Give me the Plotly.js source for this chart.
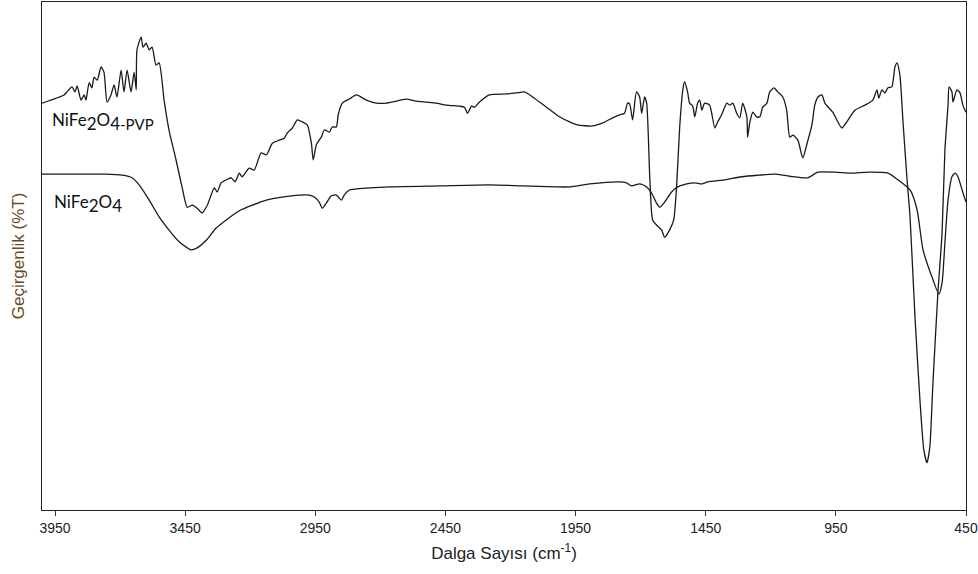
<!DOCTYPE html>
<html>
<head>
<meta charset="utf-8">
<script src="https://cdn.plot.ly/plotly-3.0.1.min.js"></script>
<style>html,body{margin:0;padding:0;background:#fff;}#chart{width:978px;height:574px;}</style>
</head>
<body>
<div id="chart"></div>
<script>
// NiFe2O4-PVP spectrum: wavenumber (cm-1) and transmittance (%T, relative)
const pvpWavenumber = [4000,3915,3904,3885,3873,3865,3850,3838,3831,3819,3808,3800,3788,3773,3762,3750,3735,3723,3712,3696,3685,3673,3658,3646,3638,3635,3619,3612,3600,3588,3577,3562,3550,3531,3512,3485,3462,3442,3423,3404,3385,3365,3338,3327,3312,3292,3273,3258,3242,3231,3204,3185,3158,3138,3115,3088,3069,3058,3038,3019,3000,2981,2965,2958,2946,2927,2915,2896,2885,2869,2862,2846,2819,2792,2754,2715,2677,2638,2600,2562,2523,2485,2446,2396,2377,2365,2350,2338,2319,2281,2215,2177,2146,2115,2062,2012,1973,1942,1885,1846,1808,1781,1762,1750,1742,1731,1716,1704,1696,1685,1677,1665,1654,1639,1619,1608,1589,1573,1562,1550,1538,1531,1519,1512,1500,1492,1481,1473,1465,1454,1435,1427,1415,1404,1389,1369,1358,1346,1331,1319,1308,1292,1289,1281,1269,1254,1242,1231,1215,1204,1188,1173,1154,1139,1127,1115,1096,1077,1062,1042,1031,1019,1004,992,962,927,908,877,838,808,792,785,773,762,750,735,723,715,704,692,677,665,646,627,612,600,589,577,558,542,531,519,515,504,500,485,473,462,450];
const pvpTransmittance = [80.1,81.7,82.3,83.3,82.3,83.5,80.7,81.7,80.7,84.1,83.1,85.2,84.6,87.2,86.2,80.3,81.7,83.7,81.3,86.6,82.3,86.6,82.3,86.2,82.7,90.6,93.1,91.1,91.9,90.6,91.1,87.6,88.0,80.7,74.8,68.9,63.6,59.6,60.0,59.4,58.5,60.0,63.4,62.6,64.4,65.0,65.4,64.6,66.3,65.6,67.3,66.9,70.3,69.9,72.2,72.8,73.2,74.2,75.2,76.8,76.4,75.8,72.2,68.9,71.9,73.4,74.8,74.4,75.4,75.4,77.8,80.1,80.9,81.7,80.7,80.1,80.1,80.5,80.9,80.5,80.3,80.1,79.7,79.5,79.3,78.1,79.5,79.3,80.3,81.7,81.9,82.1,82.3,81.3,79.3,77.4,76.4,75.8,75.6,76.2,77.2,77.8,78.1,80.1,79.9,76.8,82.3,81.3,78.1,81.3,80.1,65.6,57.1,56.1,55.1,53.7,55.1,57.1,63.6,75.4,82.7,84.3,82.1,80.1,79.5,77.4,80.1,80.7,78.7,80.1,79.7,78.1,75.2,76.4,77.8,80.1,79.7,80.1,78.1,77.2,80.1,77.4,73.4,76.2,78.3,77.4,77.4,79.3,80.1,82.3,83.1,82.3,81.3,78.7,73.4,73.8,72.8,69.3,71.9,75.8,79.7,81.3,81.7,80.1,78.3,75.2,76.4,78.7,79.7,80.7,82.7,81.1,82.7,82.1,83.1,83.3,87.2,88.0,85.6,76.4,65.4,57.7,38.0,21.7,11.8,9.3,12.4,25.0,42.7,54.5,70.9,79.7,83.3,82.3,80.3,82.7,82.1,79.7,78.3];

// NiFe2O4 spectrum
const niWavenumber = [4000,3885,3754,3692,3654,3627,3588,3550,3512,3473,3442,3427,3404,3369,3331,3292,3242,3192,3138,3077,3012,2973,2954,2935,2923,2908,2889,2869,2850,2839,2819,2792,2665,2473,2281,2154,2023,1973,1896,1781,1754,1735,1704,1677,1658,1639,1627,1608,1581,1558,1523,1492,1465,1442,1377,1312,1250,1185,1127,1058,1019,954,889,827,750,712,665,638,615,581,554,542,531,519,504,492,481,465,450];
const niTransmittance = [66.1,66.1,66.1,65.9,65.4,64.0,61.0,57.7,55.1,52.8,51.6,51.2,51.6,53.1,55.5,57.1,58.9,60.0,61.0,61.6,62.0,62.0,61.6,60.6,59.4,60.4,61.8,62.0,61.0,62.0,63.0,63.2,63.6,63.8,64.0,63.8,63.6,63.6,64.2,64.6,64.4,63.8,64.2,63.6,62.4,60.4,59.6,60.6,62.6,63.6,64.2,64.4,64.2,64.6,65.0,65.6,65.9,66.1,65.7,65.4,66.5,66.5,66.3,66.5,66.3,65.0,63.0,59.1,51.2,45.9,42.5,44.7,52.6,61.0,65.6,66.3,65.6,63.0,60.6];

const tickValues = [3950,3450,2950,2450,1950,1450,950,450];
const tickLabels = ["3950","3450","2950","2450","1950","1450","950","450"];

const lineStyle = {color:'#1a1a1a', width:1.3, shape:'spline', smoothing:0.6};

const traces = [
  {x:pvpWavenumber, y:pvpTransmittance, mode:'lines', line:lineStyle, name:'NiFe2O4-PVP', hoverinfo:'skip'},
  {x:niWavenumber, y:niTransmittance, mode:'lines', line:lineStyle, name:'NiFe2O4', hoverinfo:'skip'}
];

const layout = {
  width:978, height:574,
  margin:{l:42, r:12, t:2, b:64},
  paper_bgcolor:'#fff', plot_bgcolor:'#fff',
  showlegend:false,
  xaxis:{
    range:[4000,450], autorange:false,
    tickmode:'array', tickvals:tickValues, ticktext:tickLabels,
    ticks:'outside', ticklen:5, tickwidth:1, tickcolor:'#333',
    showline:true, linecolor:'#222', linewidth:1, mirror:true,
    showgrid:false, zeroline:false,
    tickfont:{family:'"Liberation Sans", Arial, sans-serif', size:14, color:'#222'},
    title:{text:'Dalga Sayısı (cm<sup>-1</sup>)', font:{family:'"Liberation Sans", Arial, sans-serif', size:17, color:'#222'}, standoff:12}
  },
  yaxis:{
    range:[0,100], autorange:false,
    showticklabels:false, ticks:'',
    showline:true, linecolor:'#222', linewidth:1, mirror:true,
    showgrid:false, zeroline:false,
    title:{text:'Geçirgenlik (%T)', font:{family:'"Liberation Sans", Arial, sans-serif', size:17, color:'#6b4a1e'}, standoff:12}
  },
  annotations:[
    {xref:'paper', yref:'paper', x:0.009, y:0.765, xanchor:'left', yanchor:'middle', showarrow:false,
     text:'NiFe<sub><span style="font-size:17px">2</span></sub>O<sub><span style="font-size:17px">4</span><span style="font-size:15px">-PVP</span></sub>',
     font:{family:'Lato, "Open Sans", sans-serif', size:17, color:'#111'}},
    {xref:'paper', yref:'paper', x:0.011, y:0.603, xanchor:'left', yanchor:'middle', showarrow:false,
     text:'NiFe<sub><span style="font-size:17px">2</span></sub>O<sub><span style="font-size:17px">4</span></sub>',
     font:{family:'Lato, "Open Sans", sans-serif', size:17, color:'#111'}}
  ]
};

Plotly.newPlot('chart', traces, layout, {staticPlot:true, displayModeBar:false});
</script>
</body>
</html>
